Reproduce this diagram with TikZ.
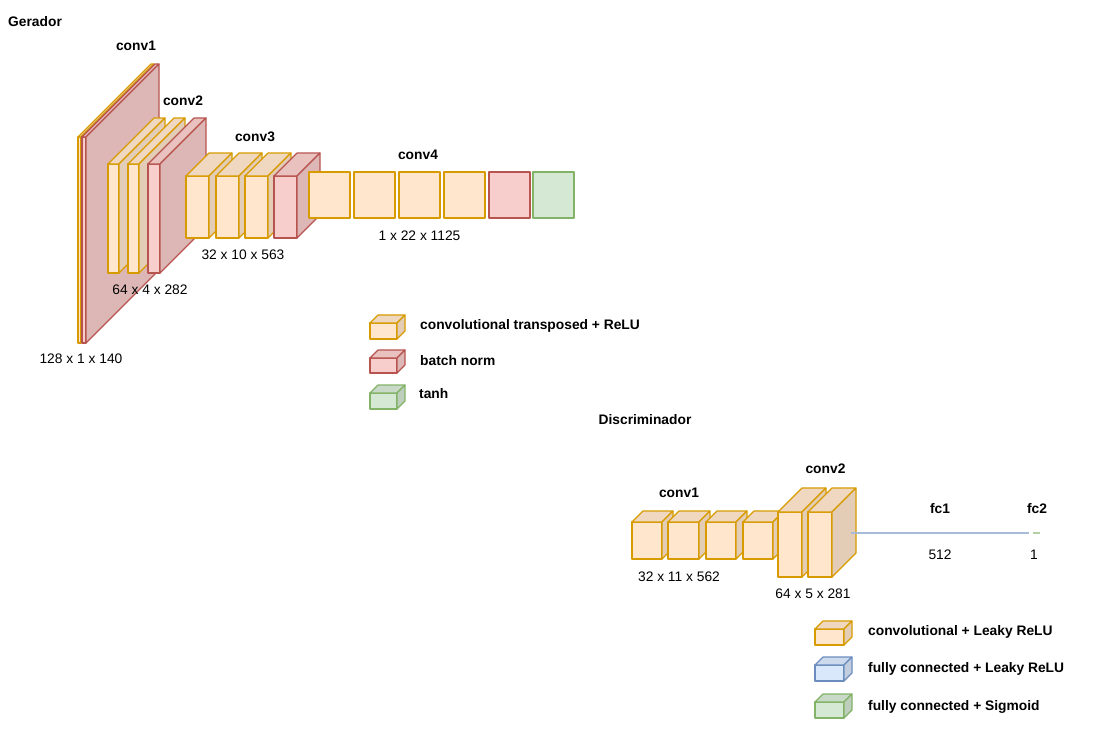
\documentclass[tikz,border=0pt]{standalone}
\usepackage{fontspec}
\setmainfont{Liberation Sans}
\definecolor{ofill}{HTML}{FFE6CC}\definecolor{ostroke}{HTML}{D79B00}
\definecolor{rfill}{HTML}{F8CECC}\definecolor{rstroke}{HTML}{B85450}
\definecolor{gfill}{HTML}{D5E8D4}\definecolor{gstroke}{HTML}{82B366}
\definecolor{bfill}{HTML}{DAE8FC}\definecolor{bstroke}{HTML}{6C8EBF}
% #1 name, #2 x, #3 y, #4 w, #5 h, #6 depth, #7 fill, #8 stroke
\newcommand{\mycube}[8]{%
  \draw[cubeline,draw=#8,fill=#7] (#2,#3+#6) rectangle (#2+#4-#6,#3+#5);
  \draw[cubeline,draw=#8,fill=#7!94!black] (#2,#3+#6) -- (#2+#6,#3) -- (#2+#4,#3) -- (#2+#4-#6,#3+#6) -- cycle;
  \draw[cubeline,draw=#8,fill=#7!89!black] (#2+#4-#6,#3+#6) -- (#2+#4,#3) -- (#2+#4,#3+#5-#6) -- (#2+#4-#6,#3+#5) -- cycle;
  \coordinate (#1) at (#2+#4/2-#6/2,#3+#5/2+#6/2);
}
\newcommand{\mysquare}[7]{%
  \draw[cubeline,draw=#7,fill=#6] (#2,#3) rectangle (#2+#4,#3+#5);
  \coordinate (#1) at (#2+#4/2,#3+#5/2);
}
\tikzset{
  cubeline/.style={line width=1.1pt,line join=round},
  lbl/.style={font=\fontsize{13.8}{16}\selectfont,inner sep=0pt},
  ttl/.style={font=\fontsize{13.8}{16}\selectfont\bfseries,inner sep=0pt},
}
\begin{document}
\begin{tikzpicture}[x=1pt,y=-1pt]
\fill[white] (0,0) rectangle (1116,750);
\useasboundingbox (0,0) rectangle (1116,750);

% ---------- Gerador ----------
\node[ttl,anchor=west] (gerador) at (8,22) {Gerador};

% conv1
\mycube{g1a}{78}{64}{76}{279}{73}{ofill}{ostroke}
\mycube{g1b}{82}{64}{77}{279}{73}{rfill}{rstroke}
% conv2
\mycube{g2a}{108}{118}{57}{155}{46}{ofill}{ostroke}
\mycube{g2b}{128}{118}{57}{155}{46}{ofill}{ostroke}
\mycube{g2c}{148}{118}{58}{155}{46}{rfill}{rstroke}
% conv3
\mycube{g3a}{186}{153}{46}{85}{23}{ofill}{ostroke}
\mycube{g3b}{216}{153}{46}{85}{23}{ofill}{ostroke}
\mycube{g3c}{245}{153}{46}{85}{23}{ofill}{ostroke}
\mycube{g3d}{274}{153}{46}{85}{23}{rfill}{rstroke}
% conv4
\mysquare{g4a}{309}{172}{41}{46}{ofill}{ostroke}
\mysquare{g4b}{354}{172}{41}{46}{ofill}{ostroke}
\mysquare{g4c}{399}{172}{41}{46}{ofill}{ostroke}
\mysquare{g4d}{444}{172}{41}{46}{ofill}{ostroke}
\mysquare{g4e}{489}{172}{41}{46}{rfill}{rstroke}
\mysquare{g4f}{533}{172}{41}{46}{gfill}{gstroke}

\node[ttl] (tc1) at (136,46) {conv1};
\node[ttl] (tc2) at (183,101) {conv2};
\node[ttl] (tc3) at (255,137) {conv3};
\node[ttl] (tc4) at (418,155) {conv4};
\node[lbl] (d1) at (81,359) {128 x 1 x 140};
\node[lbl] (d2) at (150,290) {64 x 4 x 282};
\node[lbl] (d3) at (243,255) {32 x 10 x 563};
\node[lbl] (d4) at (419.5,236) {1 x 22 x 1125};

% legend 1
\mycube{lg1}{370}{315}{35}{24}{8}{ofill}{ostroke}
\mycube{lg2}{370}{350}{35}{23}{8}{rfill}{rstroke}
\mycube{lg3}{370}{385}{35}{24}{8}{gfill}{gstroke}
\node[ttl,anchor=west] (lt1) at (420,326) {convolutional transposed + ReLU};
\node[ttl,anchor=west] (lt2) at (420,361) {batch norm};
\node[ttl,anchor=west] (lt3) at (419,394) {tanh};

% ---------- Discriminador ----------
\node[ttl] (disc) at (645,420) {Discriminador};

\mycube{c1a}{632}{511}{41}{48}{11}{ofill}{ostroke}
\mycube{c1b}{668}{511}{42}{48}{11}{ofill}{ostroke}
\mycube{c1c}{706}{511}{41}{48}{11}{ofill}{ostroke}
\mycube{c1d}{743}{511}{41}{48}{11}{ofill}{ostroke}
\mycube{c2a}{778}{488}{48}{89}{24}{ofill}{ostroke}
\mycube{c2b}{808}{488}{48}{89}{24}{ofill}{ostroke}

\coordinate (fcstart) at (851,533.3);
\coordinate (fc1end) at (1029,533.3);
\coordinate (fc2start) at (1032.5,533.3);
\coordinate (fc2end) at (1040,533.3);
\draw[line width=2pt,draw=bstroke!60!white] (fcstart) -- (fc1end);
\draw[line width=2pt,draw=gstroke!60!white] (fc2start) -- (fc2end);

\node[ttl] (dc1) at (679,493) {conv1};
\node[ttl] (dc2) at (825.5,469) {conv2};
\node[ttl] (dfc1) at (940,509) {fc1};
\node[ttl] (dfc2) at (1037,509) {fc2};
\node[lbl] (dd1) at (679,577) {32 x 11 x 562};
\node[lbl] (dd2) at (813,594) {64 x 5 x 281};
\node[lbl] (dd3) at (940,555) {512};
\node[lbl] (dd4) at (1034,555) {1};

% legend 2
\mycube{lh1}{815}{621}{37}{24}{8}{ofill}{ostroke}
\mycube{lh2}{815}{657}{37}{24}{8}{bfill}{bstroke}
\mycube{lh3}{815}{694}{37}{24}{8}{gfill}{gstroke}
\node[ttl,anchor=west] (mt1) at (868,632) {convolutional + Leaky ReLU};
\node[ttl,anchor=west] (mt2) at (868,669) {fully connected + Leaky ReLU};
\node[ttl,anchor=west] (mt3) at (868,707) {fully connected + Sigmoid};
\end{tikzpicture}
\end{document}
